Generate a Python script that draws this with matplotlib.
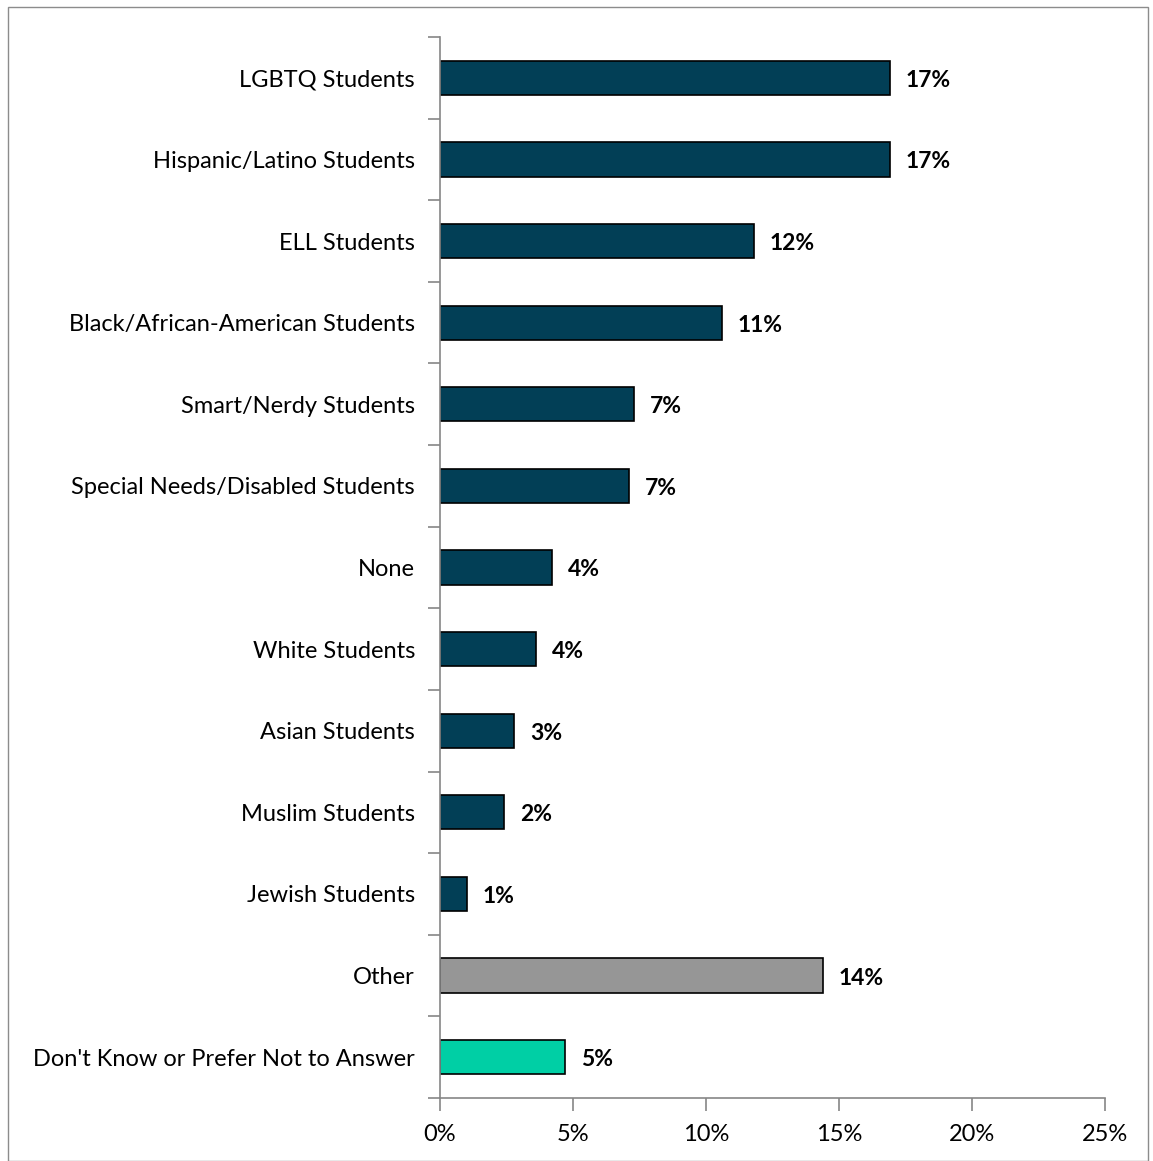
import matplotlib.pyplot as plt
from matplotlib.patches import Rectangle
from matplotlib.ticker import FixedLocator, PercentFormatter

plt.rcParams["font.family"] = ["Lato", "DejaVu Sans"]

categories = [
    "LGBTQ Students",
    "Hispanic/Latino Students",
    "ELL Students",
    "Black/African-American Students",
    "Smart/Nerdy Students",
    "Special Needs/Disabled Students",
    "None",
    "White Students",
    "Asian Students",
    "Muslim Students",
    "Jewish Students",
    "Other",
    "Don't Know or Prefer Not to Answer",
]
values = [16.9, 16.9, 11.8, 10.6, 7.3, 7.1, 4.2, 3.6, 2.8, 2.4, 1.0, 14.4, 4.7]
colors = ["#023f56"] * 11 + ["#969696", "#00cfa5"]
x_ticks = [0, 5, 10, 15, 20, 25]

fig = plt.figure(figsize=(11.53, 11.61), dpi=100)
ax = fig.add_axes([440 / 1153, 1 - 1098 / 1161, 665 / 1153, 1061 / 1161])

# thin frame round the whole chart
fig.patches.append(Rectangle((8 / 1153, 0), 1140 / 1153, 1 - 7 / 1161,
                             transform=fig.transFigure, fill=False,
                             edgecolor="#8c8c8c", linewidth=1))

ypos = list(range(len(categories)))
bars = ax.barh(ypos, values, height=0.42, color=colors,
               edgecolor="black", linewidth=1.2)

for bar, v in zip(bars, values):
    ax.text(bar.get_width() + 0.6, bar.get_y() + bar.get_height() / 2 + 0.03,
            f"{v:.0f}%", va="center", ha="left",
            fontsize=16.5, fontweight="bold")

ax.set_ylim(len(categories) - 0.5, -0.5)
ax.set_xlim(0, 25)
ax.set_yticks(ypos)
ax.set_yticklabels(categories, fontsize=17)
ax.yaxis.set_minor_locator(FixedLocator([i - 0.5 for i in range(len(categories) + 1)]))
ax.tick_params(axis="y", which="major", length=0, pad=18)
ax.tick_params(axis="y", which="minor", length=9, color="#868686", width=1.2)

ax.set_xticks(x_ticks)
ax.xaxis.set_major_formatter(PercentFormatter(decimals=0))
ax.tick_params(axis="x", length=9, color="#868686", width=1.2,
               labelsize=17, pad=10)

for side in ["top", "right"]:
    ax.spines[side].set_visible(False)
for side in ["left", "bottom"]:
    ax.spines[side].set_color("#868686")
    ax.spines[side].set_linewidth(1.2)

fig.savefig("out.png", dpi=100)
